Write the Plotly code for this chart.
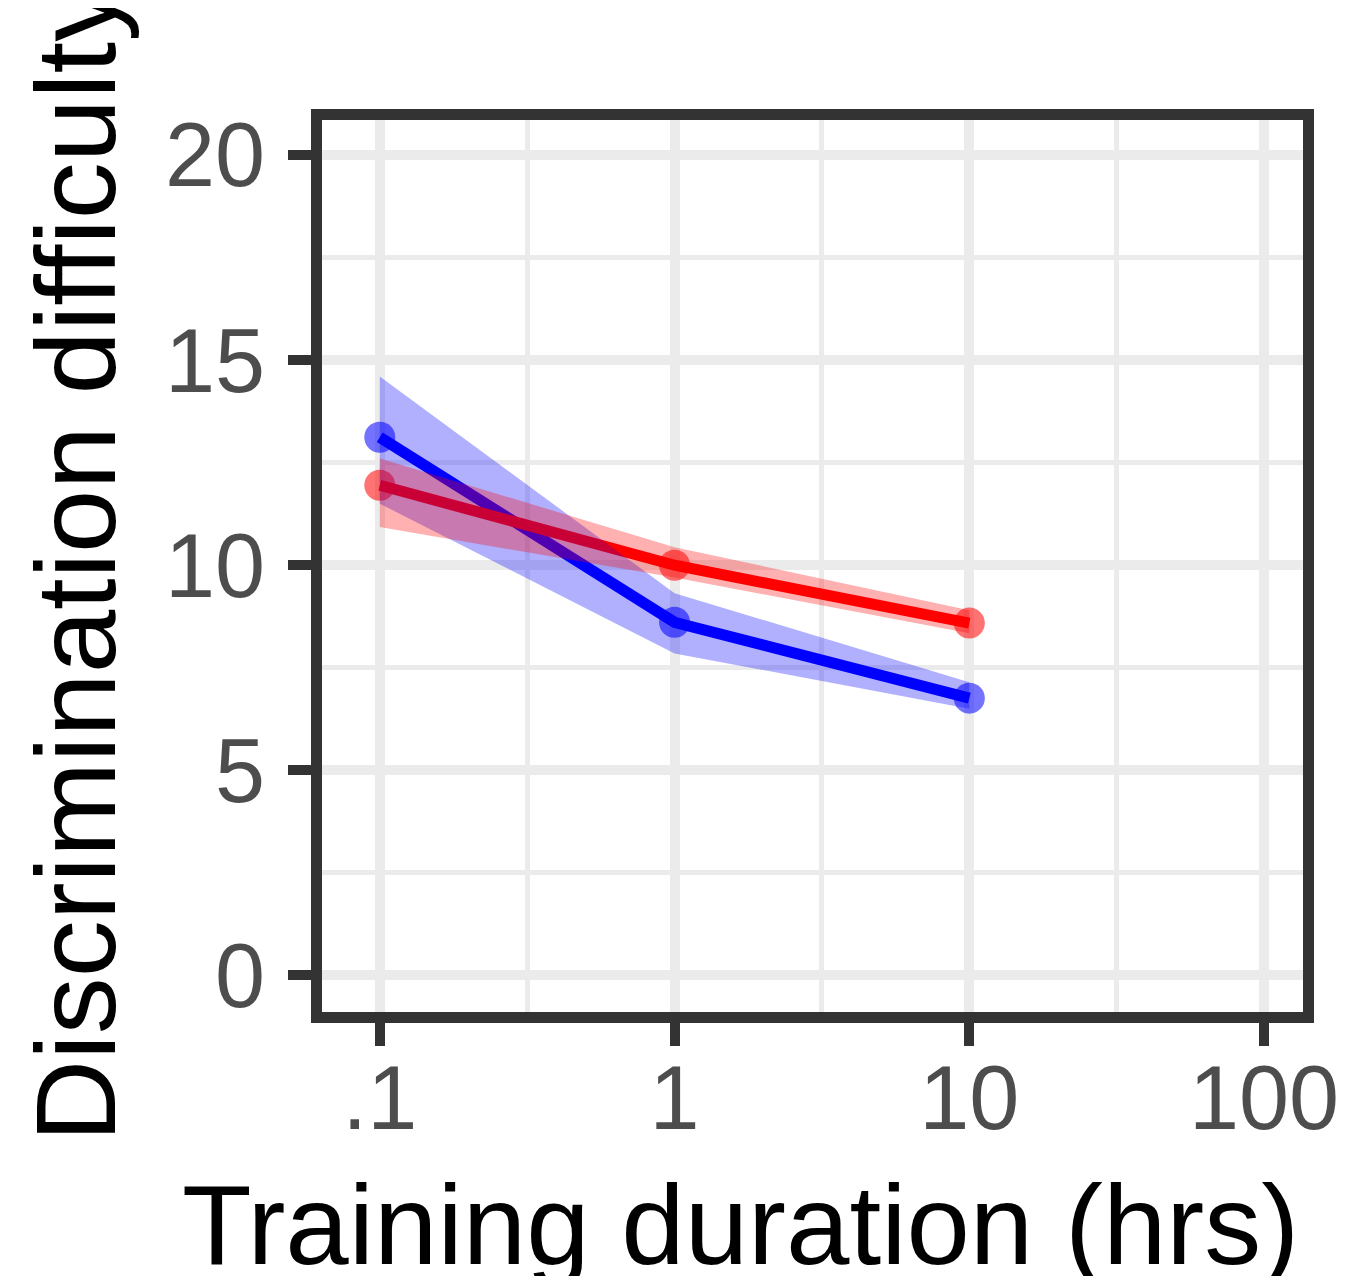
import plotly.graph_objects as go

# Data
durations = [0.1, 1, 10]
blue_mean = [13.12, 8.61, 6.76]
blue_upper = [14.6, 9.32, 7.15]
blue_lower = [11.5, 7.85, 6.5]
red_mean = [11.95, 10.0, 8.59]
red_upper = [12.6, 10.44, 8.9]
red_lower = [10.93, 9.7, 8.34]

x_tickvals = [0.1, 1, 10, 100]
x_ticktext = [".1", "1", "10", "100"]
y_tickvals = [0, 5, 10, 15, 20]

BLUE = "#0000FF"
RED = "#FF0000"

fig = go.Figure()

# points (translucent)
for mean, col in [(blue_mean, BLUE), (red_mean, RED)]:
    fig.add_trace(go.Scatter(x=durations, y=mean, mode="markers",
                             marker=dict(size=31, color=col, opacity=0.55, line=dict(width=0)),
                             showlegend=False, hoverinfo="skip"))
# lines
for mean, col in [(blue_mean, BLUE), (red_mean, RED)]:
    fig.add_trace(go.Scatter(x=durations, y=mean, mode="lines",
                             line=dict(color=col, width=11),
                             showlegend=False, hoverinfo="skip"))
# ribbons on top
for up, lo, fc in [(blue_upper, blue_lower, "rgba(0,0,255,0.31)"),
                   (red_upper, red_lower, "rgba(255,0,0,0.31)")]:
    fig.add_trace(go.Scatter(x=durations + durations[::-1], y=up + lo[::-1],
                             mode="lines", fill="toself", fillcolor=fc,
                             line=dict(width=0), showlegend=False, hoverinfo="skip"))

FONT = "Liberation Sans, Arial, sans-serif"
W, H = 1343, 1268          # page has an 8px body margin
L, T, PW, PH = 314, 112, 985, 892
R = W - L - PW
B = H - T - PH


def px_x(p):
    return (p - L) / PW


def px_y(p):
    return (T + PH - p) / PH


fig.update_layout(
    width=W, height=H,
    margin=dict(l=L, r=R, t=T, b=B),
    plot_bgcolor="white", paper_bgcolor="white",
    font=dict(family=FONT),
    xaxis=dict(type="log", range=[-1.196, 2.132],
               tickvals=x_tickvals, ticktext=x_ticktext,
               tickfont=dict(size=90, color="#4d4d4d", family=FONT),
               ticks="outside", ticklen=23, tickwidth=10, tickcolor="#333333",
               showgrid=True, gridcolor="#ebebeb", gridwidth=10,
               minor=dict(tickvals=[10 ** -0.5, 10 ** 0.5, 10 ** 1.5], showgrid=True,
                          gridcolor="#ebebeb", gridwidth=5, ticks=""),
               showline=True, linecolor="#333333", linewidth=11, mirror=True,
               zeroline=False, ticklabelstandoff=-25),
    yaxis=dict(range=[-0.890, 20.853],
               tickvals=y_tickvals,
               tickfont=dict(size=90, color="#4d4d4d", family=FONT),
               ticks="outside", ticklen=23, tickwidth=10, tickcolor="#333333",
               showgrid=True, gridcolor="#ebebeb", gridwidth=10,
               minor=dict(tickvals=[2.5, 7.5, 12.5, 17.5], showgrid=True,
                          gridcolor="#ebebeb", gridwidth=5, ticks=""),
               showline=True, linecolor="#333333", linewidth=11, mirror=True,
               zeroline=False, ticklabelstandoff=5),
    annotations=[
        dict(text="Training duration (hrs)", xref="paper", yref="paper",
             x=px_x(734), y=px_y(1216), xanchor="center", yanchor="middle",
             showarrow=False, font=dict(size=114, color="black", family=FONT)),
        dict(text="Discrimination difficulty", xref="paper", yref="paper",
             x=px_x(66), y=px_y(556), xanchor="center", yanchor="middle",
             textangle=-90, showarrow=False,
             font=dict(size=114, color="black", family=FONT)),
    ],
)

fig.write_html("out.html")
